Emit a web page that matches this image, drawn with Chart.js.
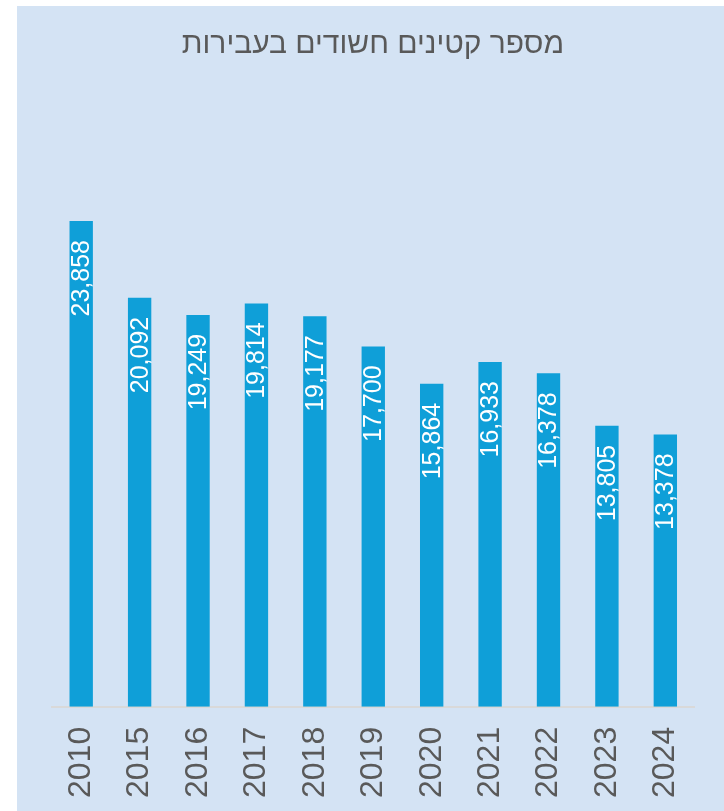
<!DOCTYPE html>
<html>
<head>
<meta charset="utf-8">
<script src="https://cdn.jsdelivr.net/npm/chart.js@4/dist/chart.umd.min.js"></script>
<style>
  html, body { margin: 0; padding: 0; background: #ffffff; overflow: hidden; }
  #panel {
    position: absolute; left: 17px; top: 6px;
    width: 707px; height: 812px;
    background: #d4e3f4;
  }
</style>
</head>
<body>
<div id="panel"><canvas id="minorsChart" width="707" height="812"></canvas></div>
<script>
// Years shown on the x axis.
var years = ['2010', '2015', '2016', '2017', '2018', '2019', '2020', '2021', '2022', '2023', '2024'];

// Number of suspected minors per year.
var suspects = [23858, 20092, 19249, 19814, 19177, 17700, 15864, 16933, 16378, 13805, 13378];

var chartTitle = 'מספר קטינים חשודים בעבירות';

Chart.defaults.font.family = "'Liberation Sans', Arial, sans-serif";

// Title drawn at a fixed spot over the plot.
var chartHeading = {
    id: 'chartHeading',
    afterDraw: function (chart) {
        var ctx = chart.ctx;
        ctx.save();
        ctx.fillStyle = '#595959';
        ctx.font = "30px 'Liberation Sans', Arial, sans-serif";
        ctx.textAlign = 'center';
        ctx.textBaseline = 'middle';
        ctx.direction = 'rtl';
        ctx.fillText(chartTitle, 356, 39);
        ctx.restore();
    }
};

// Writes each value vertically inside the top of its bar.
var barValueLabels = {
    id: 'barValueLabels',
    afterDatasetsDraw: function (chart) {
        var ctx = chart.ctx;
        var meta = chart.getDatasetMeta(0);
        ctx.save();
        ctx.fillStyle = '#ffffff';
        ctx.font = "25px 'Liberation Sans', Arial, sans-serif";
        ctx.textAlign = 'right';
        ctx.textBaseline = 'middle';
        meta.data.forEach(function (bar, i) {
            ctx.save();
            ctx.translate(bar.x + 1, bar.y + 19);
            ctx.rotate(-Math.PI / 2);
            ctx.fillText(suspects[i].toLocaleString('en-US'), 0, 0);
            ctx.restore();
        });
        ctx.restore();
    }
};

var ctx = document.getElementById('minorsChart').getContext('2d');
var chart = new Chart(ctx, {
    type: 'bar',
    data: {
        labels: years,
        datasets: [{
            data: suspects,
            backgroundColor: '#0f9fd8',
            barPercentage: 0.4,
            categoryPercentage: 1.0
        }]
    },
    options: {
        responsive: false,
        animation: false,
        layout: {
            padding: { left: 35, right: 6, top: 90, bottom: 0 }
        },
        plugins: {
            legend: { display: false },
            tooltip: { enabled: false },
            title: { display: false }
        },
        scales: {
            x: {
                grid: { display: false, drawTicks: false },
                border: { display: true, color: '#d9d9d9', width: 2 },
                ticks: {
                    color: '#595959',
                    font: { size: 32 },
                    minRotation: 90,
                    maxRotation: 90,
                    padding: 20
                }
            },
            y: {
                display: false,
                min: 0,
                max: 30000
            }
        }
    },
    plugins: [barValueLabels, chartHeading]
});
</script>
</body>
</html>
